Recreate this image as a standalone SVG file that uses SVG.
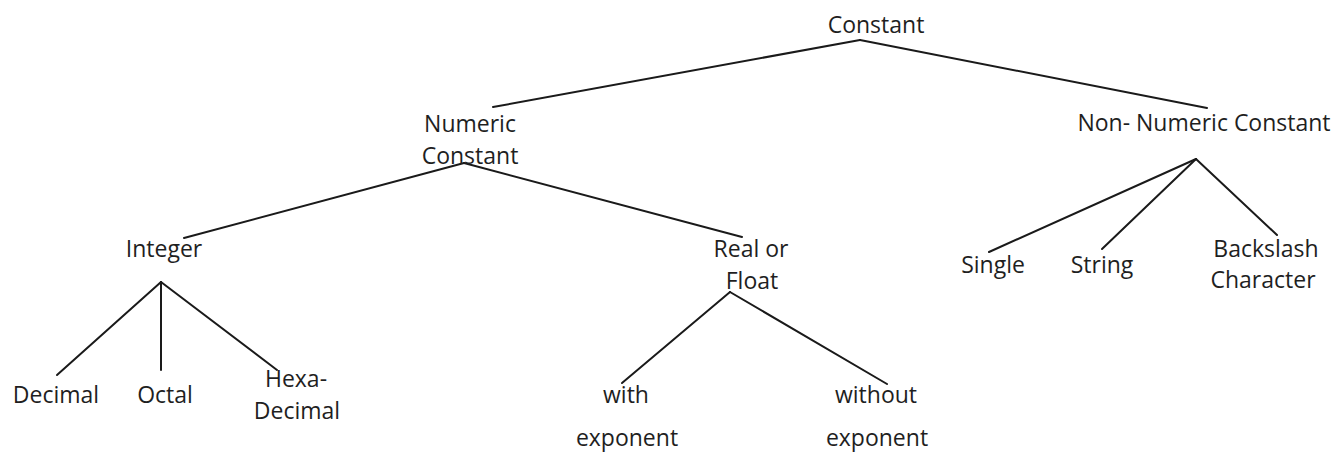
<svg xmlns="http://www.w3.org/2000/svg" width="1333" height="453" viewBox="0 0 1333 453">
<style>
text{font-family:"Open Sans","Liberation Sans",sans-serif;font-size:23px;fill:#1f1f1f;text-anchor:middle}
.c line{stroke:#1a1a1a;stroke-width:2;stroke-linecap:round}
</style>
<rect width="1333" height="453" fill="#fff"/>
<g class="c" id="connectors">
<line x1="860" y1="40" x2="493" y2="107"/>
<line x1="860" y1="40" x2="1207" y2="108"/>
<line x1="464" y1="163" x2="184" y2="238"/>
<line x1="464" y1="163" x2="742" y2="237"/>
<line x1="161" y1="282" x2="57" y2="375"/>
<line x1="161" y1="282" x2="161" y2="370"/>
<line x1="161" y1="282" x2="277" y2="370"/>
<line x1="730" y1="292" x2="622" y2="383"/>
<line x1="730" y1="292" x2="887" y2="384"/>
<line x1="1196" y1="159" x2="989" y2="252"/>
<line x1="1196" y1="159" x2="1102" y2="249"/>
<line x1="1196" y1="159" x2="1277" y2="235"/>
</g>
<g id="constant"><text x="876" y="33">Constant</text></g>
<g id="numeric"><text x="470" y="132">Numeric</text><text x="470" y="164">Constant</text></g>
<g id="nonnumeric"><text x="1204" y="131">Non- Numeric Constant</text></g>
<g id="integer"><text x="164" y="257">Integer</text></g>
<g id="real"><text x="751" y="257">Real or</text><text x="752" y="289">Float</text></g>
<g id="decimal"><text x="56" y="403">Decimal</text></g>
<g id="octal"><text x="165" y="403">Octal</text></g>
<g id="hexa"><text x="296" y="387">Hexa-</text><text x="297" y="419">Decimal</text></g>
<g id="with"><text x="626" y="403">with</text><text x="627" y="446">exponent</text></g>
<g id="without"><text x="876" y="403">without</text><text x="877" y="446">exponent</text></g>
<g id="single"><text x="993" y="273">Single</text></g>
<g id="string"><text x="1102" y="273">String</text></g>
<g id="backslash"><text x="1266" y="257">Backslash</text><text x="1263" y="288">Character</text></g>
</svg>
